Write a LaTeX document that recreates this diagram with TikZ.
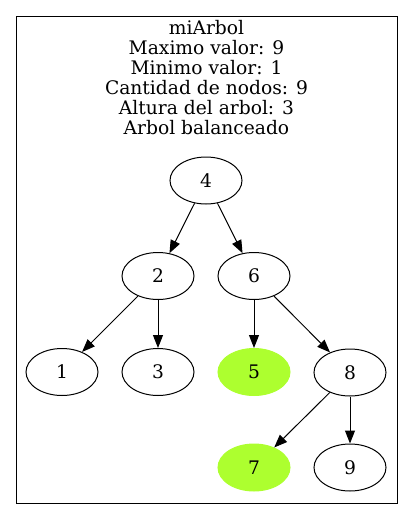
\documentclass[tikz,border=0pt]{standalone}
\usepackage{fontspec}
\setmainfont{DejaVu Serif}
\usetikzlibrary{shapes.geometric,arrows.meta}
\definecolor{gy}{HTML}{ADFF2F}
\tikzset{
  tnode/.style={ellipse, draw=black, line width=1pt, minimum width=72pt, minimum height=47pt, inner sep=0pt, font=\fontsize{18.67}{22}\selectfont},
  gnode/.style={tnode, draw=gy, fill=gy},
  edge/.style={line width=1pt, -{Triangle[length=13pt,width=10pt]}},
  ttl/.style={anchor=base, inner sep=0pt, font=\fontsize{18.67}{22}\selectfont}
}
\begin{document}
\begin{tikzpicture}[x=1pt,y=-1pt]
\useasboundingbox (0,0) rectangle (413,520);
\draw[line width=1pt] (16,16) rectangle (397,503);
\node[ttl] (t1) at (206.5,34) {miArbol};
\node[ttl] (t2) at (206.5,54) {Maximo valor: 9};
\node[ttl] (t3) at (206.5,74) {Minimo valor: 1};
\node[ttl] (t4) at (206.5,94) {Cantidad de nodos: 9};
\node[ttl] (t5) at (206.5,114) {Altura del arbol: 3};
\node[ttl] (t6) at (206.5,134) {Arbol balanceado};
\node[tnode] (n4) at (206,180.5) {4};
\node[tnode] (n2) at (158,276) {2};
\node[tnode] (n6) at (254,276) {6};
\node[tnode] (n1) at (62,372) {1};
\node[tnode] (n3) at (158,372) {3};
\node[gnode] (n5) at (254,372) {5};
\node[tnode] (n8) at (350,372.5) {8};
\node[gnode] (n7) at (254,467.5) {7};
\node[tnode] (n9) at (350,467.5) {9};
\draw[edge] (n4) -- (n2);
\draw[edge] (n4) -- (n6);
\draw[edge] (n2) -- (n1);
\draw[edge] (n2) -- (n3);
\draw[edge] (n6) -- (n5);
\draw[edge] (n6) -- (n8);
\draw[edge] (n8) -- (n7);
\draw[edge] (n8) -- (n9);
\end{tikzpicture}
\end{document}
